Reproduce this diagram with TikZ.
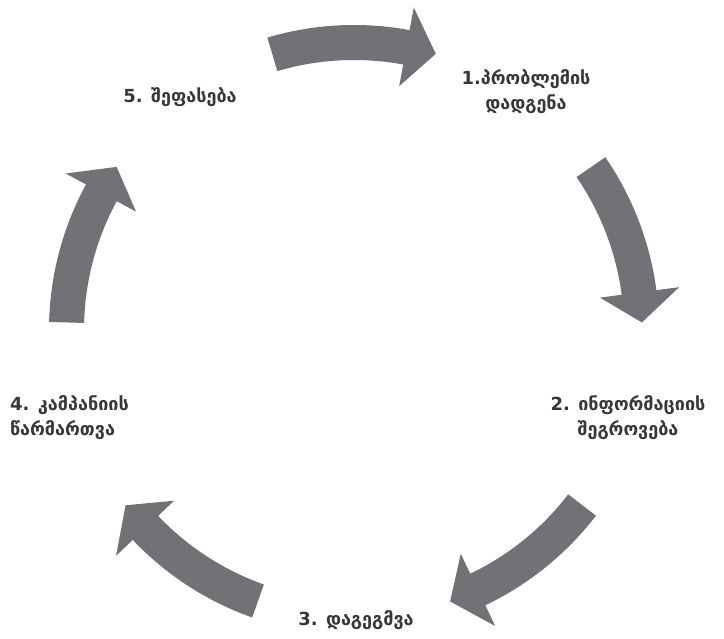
\documentclass[tikz,border=0pt]{standalone}
\usepackage{fontspec}
\setmainfont{DejaVu Sans}
\definecolor{arrowgray}{RGB}{113,114,118}
\definecolor{labelgray}{RGB}{55,55,58}
\tikzset{
  steplabel/.style={font=\bfseries\fontsize{18}{25}\selectfont, text=labelgray, align=center, inner sep=0pt},
  cyclearrow/.style={fill=arrowgray, draw=none},
}
\begin{document}
\begin{tikzpicture}[x=1pt,y=1pt]

	\useasboundingbox (0,0) rectangle (724,639); % keeps the margins

	\coordinate (Center) at (354,309);
	\foreach \a in {90,18,-54,-126,-198}{% one curved arrow for each
		% gap of the cycle, running clockwise
		\path[cyclearrow,shift={(Center)}] (\a+16.5:305)
		arc[start angle=\a+16.5,end angle=\a-10.5,radius=305]
		-- (\a-10.5:328) -- (\a-16.5:288) -- (\a-10.5:248) -- (\a-10.5:270)
		arc[start angle=\a-10.5,end angle=\a+16.5,radius=270] -- cycle;
	}

	\node[steplabel] (Lone) at (526,547) {1.პრობლემის\\დადგენა};
	\node[steplabel] (Ltwo) at (628,221) {2. ინფორმაციის\\შეგროვება};
	\node[steplabel] (Lthree) at (356,19) {3. დაგეგმვა};
	\node[steplabel,anchor=west,align=left] (Lfour) at (10,221) {4. კამპანიის\\წარმართვა};
	\node[steplabel] (Lfive) at (180,542) {5. შეფასება};

\end{tikzpicture}
\end{document}
